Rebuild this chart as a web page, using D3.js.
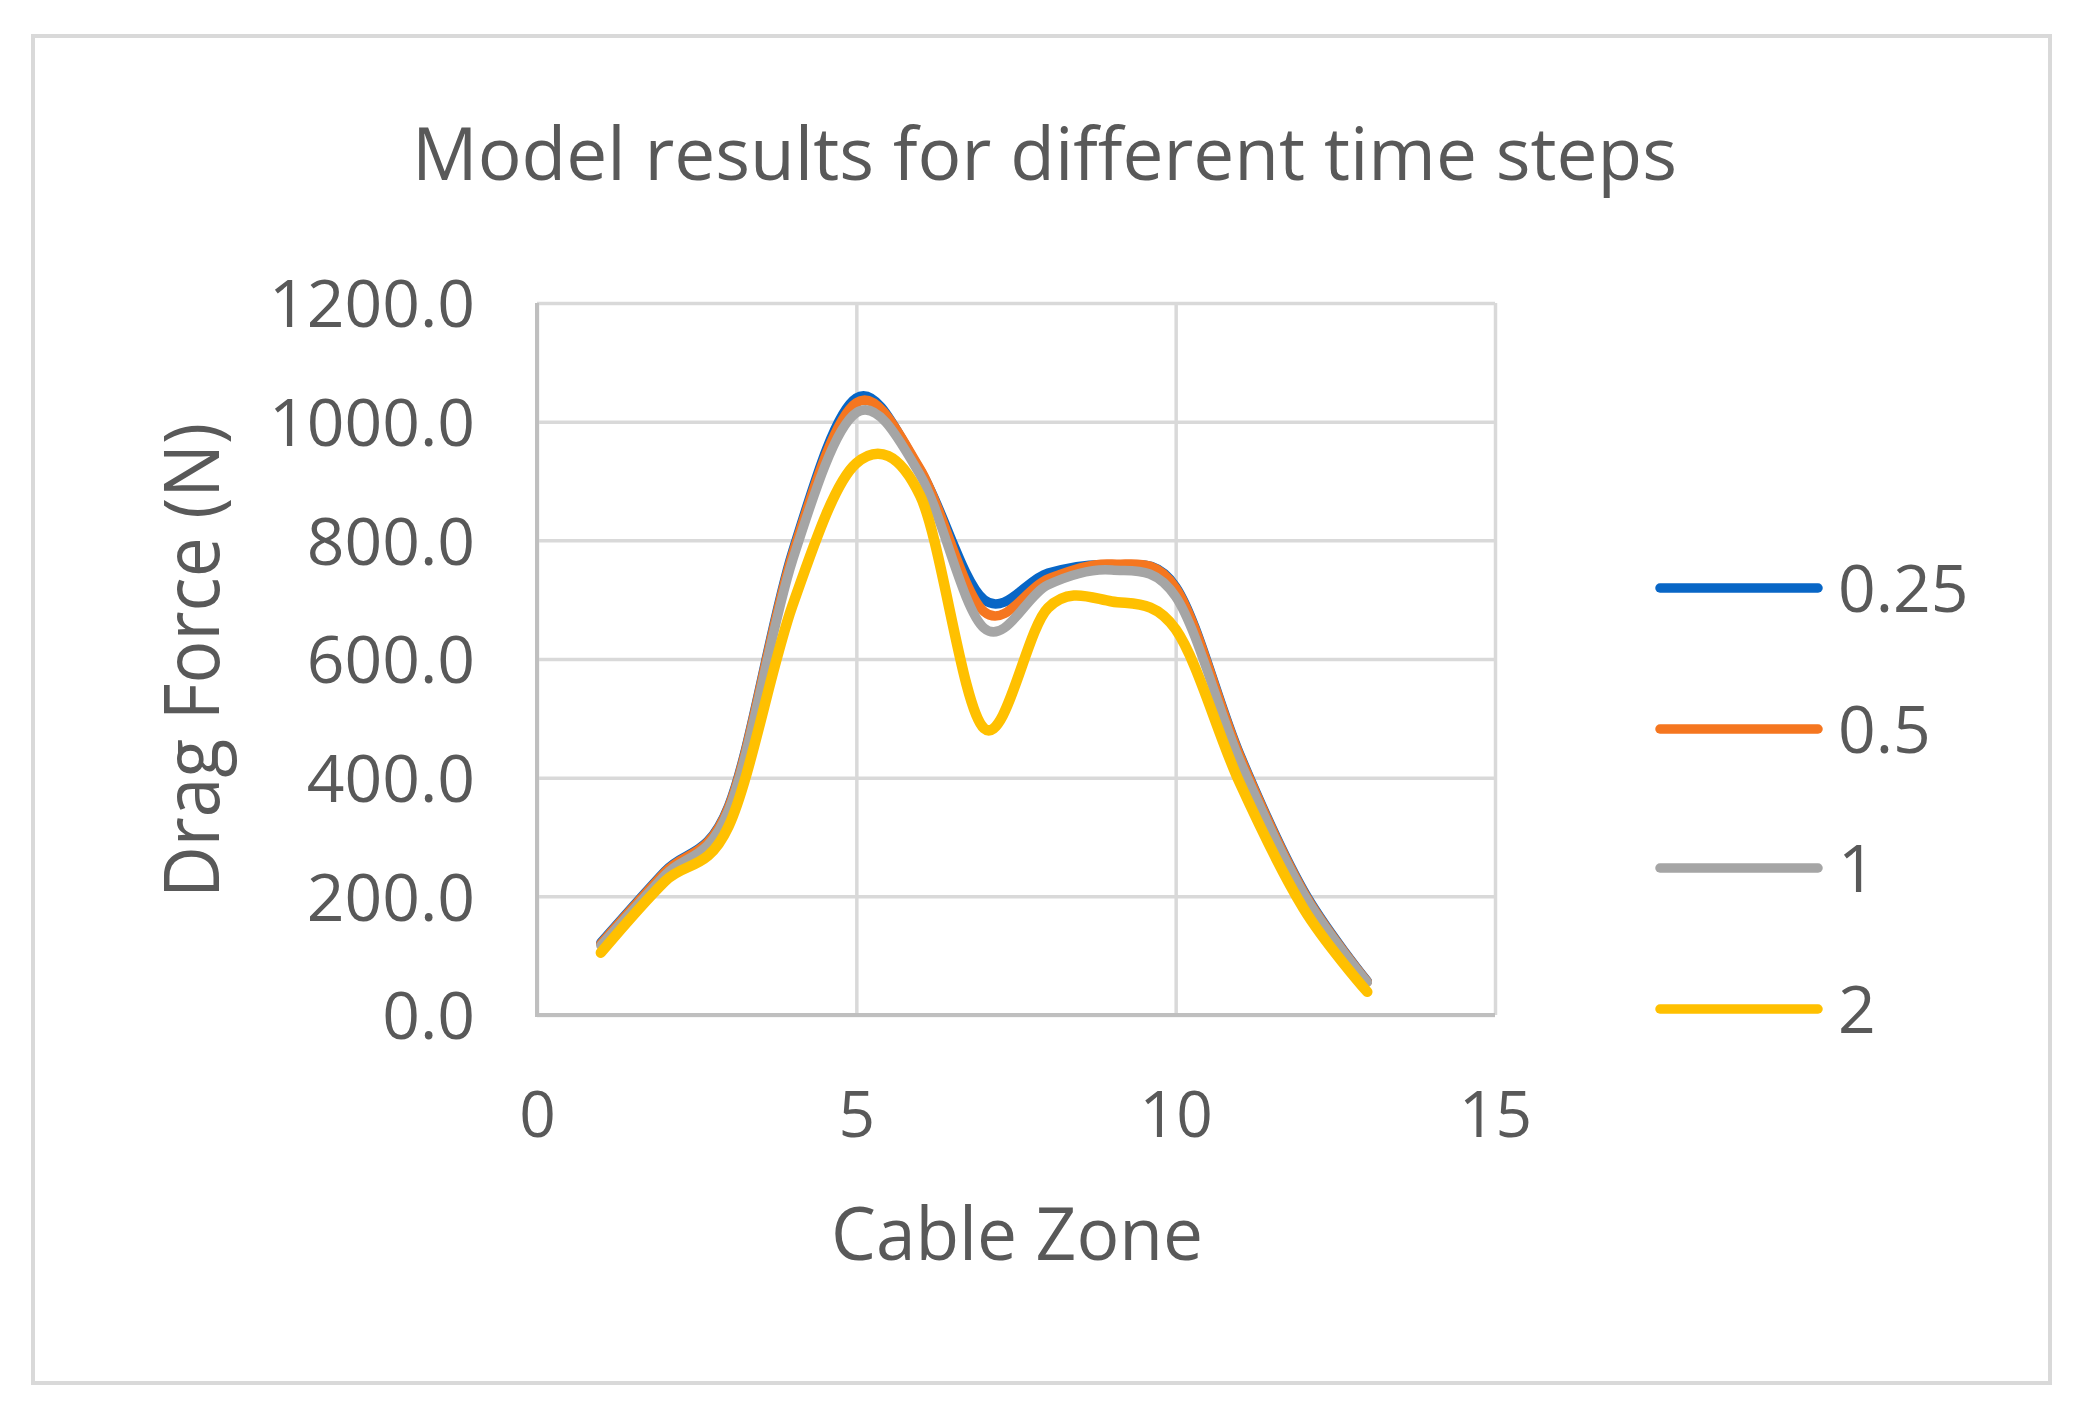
<!DOCTYPE html>
<html>
<head>
<meta charset="utf-8">
<script src="https://cdn.jsdelivr.net/npm/d3@7"></script>
<style>
  html, body { margin: 0; padding: 0; background: #fff; }
  svg { display: block; }
  text { font-family: "Open Sans", "Liberation Sans", sans-serif; fill: #595959; }
</style>
</head>
<body>
<svg id="chart" width="2085" height="1417"></svg>
<script>
// ---- data ----
const zones = [1, 2, 3, 4, 5, 6, 7, 8, 9, 10, 11, 12, 13];
const seriesNames = ["0.25", "0.5", "1", "2"];
const values_025 = [122, 242, 352, 780, 1040, 918, 700, 745, 758, 722, 440, 210, 57];
const values_05  = [120, 240, 350, 776, 1032, 920, 680, 735, 760, 720, 438, 208, 56];
const values_1   = [117, 235, 345, 766, 1015, 910, 652, 725, 750, 705, 430, 205, 55];
const values_2   = [105, 225, 318, 690, 930, 875, 483, 686, 697, 650, 392, 180, 39];
const seriesColors = ["#0866C6", "#F5761F", "#A5A5A5", "#FFC000"];
const xTicks = [0, 5, 10, 15];
const yTicks = [0, 200, 400, 600, 800, 1000, 1200];
const titleText = "Model results for different time steps";
const xTitle = "Cable Zone";
const yTitle = "Drag Force (N)";

const seriesValues = [values_025, values_05, values_1, values_2];

// ---- layout ----
const svg = d3.select("#chart");
const plot = { left: 537, right: 1495, top: 303, bottom: 1015 };

svg.append("rect")
  .attr("x", 33).attr("y", 36).attr("width", 2017).attr("height", 1347)
  .attr("fill", "#fff").attr("stroke", "#d9d9d9").attr("stroke-width", 4);

const x = d3.scaleLinear().domain([0, 15]).range([plot.left, plot.right]);
const y = d3.scaleLinear().domain([0, 1200]).range([plot.bottom, plot.top]);

// gridlines
const gy = svg.append("g").attr("transform", `translate(${plot.left},0)`)
  .call(d3.axisLeft(y).tickValues(yTicks).tickSize(-(plot.right - plot.left)).tickFormat(""));
gy.select(".domain").remove();
gy.selectAll(".tick line").attr("stroke", "#d9d9d9").attr("stroke-width", 3.5);

const gx = svg.append("g").attr("transform", `translate(0,${plot.bottom})`)
  .call(d3.axisBottom(x).tickValues(xTicks).tickSize(-(plot.bottom - plot.top)).tickFormat(""));
gx.select(".domain").remove();
gx.selectAll(".tick line").attr("stroke", "#d9d9d9").attr("stroke-width", 3.5);

// axis lines
svg.append("line").attr("x1", plot.left).attr("x2", plot.left)
  .attr("y1", plot.top).attr("y2", plot.bottom)
  .attr("stroke", "#bfbfbf").attr("stroke-width", 4);
svg.append("line").attr("x1", plot.left - 2).attr("x2", plot.right)
  .attr("y1", plot.bottom).attr("y2", plot.bottom)
  .attr("stroke", "#bfbfbf").attr("stroke-width", 4);

// tick labels
const yl = svg.append("g").attr("transform", `translate(${plot.left},0)`)
  .call(d3.axisLeft(y).tickValues(yTicks).tickSize(0).tickPadding(62).tickFormat(d3.format(".1f")));
yl.select(".domain").remove();
yl.selectAll("text").attr("font-size", 66).attr("fill", "#595959")
  .attr("font-family", "'Open Sans', sans-serif").attr("dy", "0.36em");

const xl = svg.append("g").attr("transform", `translate(0,${plot.bottom})`)
  .call(d3.axisBottom(x).tickValues(xTicks).tickSize(0).tickPadding(0).tickFormat(d3.format("d")));
xl.select(".domain").remove();
xl.selectAll("text").attr("font-size", 64).attr("fill", "#595959")
  .attr("font-family", "'Open Sans', sans-serif").attr("y", 122).attr("dy", 0);

// series lines
const line = d3.line()
  .x((d, i) => x(zones[i]))
  .y(d => y(d))
  .curve(d3.curveCardinal.tension(0));

svg.append("g").selectAll("path").data(seriesValues).join("path")
  .attr("d", d => line(d))
  .attr("fill", "none")
  .attr("stroke", (d, i) => seriesColors[i])
  .attr("stroke-width", (d, i) => i === 3 ? 10.5 : 9.5)
  .attr("stroke-linecap", "round")
  .attr("stroke-linejoin", "round");

// title
svg.append("text").attr("x", 412).attr("y", 180)
  .attr("font-size", 74)
  .attr("textLength", 1265).attr("lengthAdjust", "spacingAndGlyphs")
  .text(titleText);

// axis titles
svg.append("text").attr("x", 831).attr("y", 1260)
  .attr("font-size", 74)
  .attr("textLength", 372).attr("lengthAdjust", "spacingAndGlyphs")
  .text(xTitle);

svg.append("text")
  .attr("transform", "translate(219,898) rotate(-90)")
  .attr("x", 0).attr("y", 0)
  .attr("font-size", 76)
  .attr("textLength", 475).attr("lengthAdjust", "spacingAndGlyphs")
  .text(yTitle);

// legend
const legendY = [588, 729, 868, 1009];
const lg = svg.append("g");
seriesNames.forEach((name, i) => {
  lg.append("line")
    .attr("x1", 1660).attr("x2", 1818)
    .attr("y1", legendY[i]).attr("y2", legendY[i])
    .attr("stroke", seriesColors[i]).attr("stroke-width", 9.5)
    .attr("stroke-linecap", "round");
  lg.append("text")
    .attr("x", 1838).attr("y", legendY[i]).attr("dy", "0.36em")
    .attr("font-size", 66)
    .text(name);
});
</script>
</body>
</html>
